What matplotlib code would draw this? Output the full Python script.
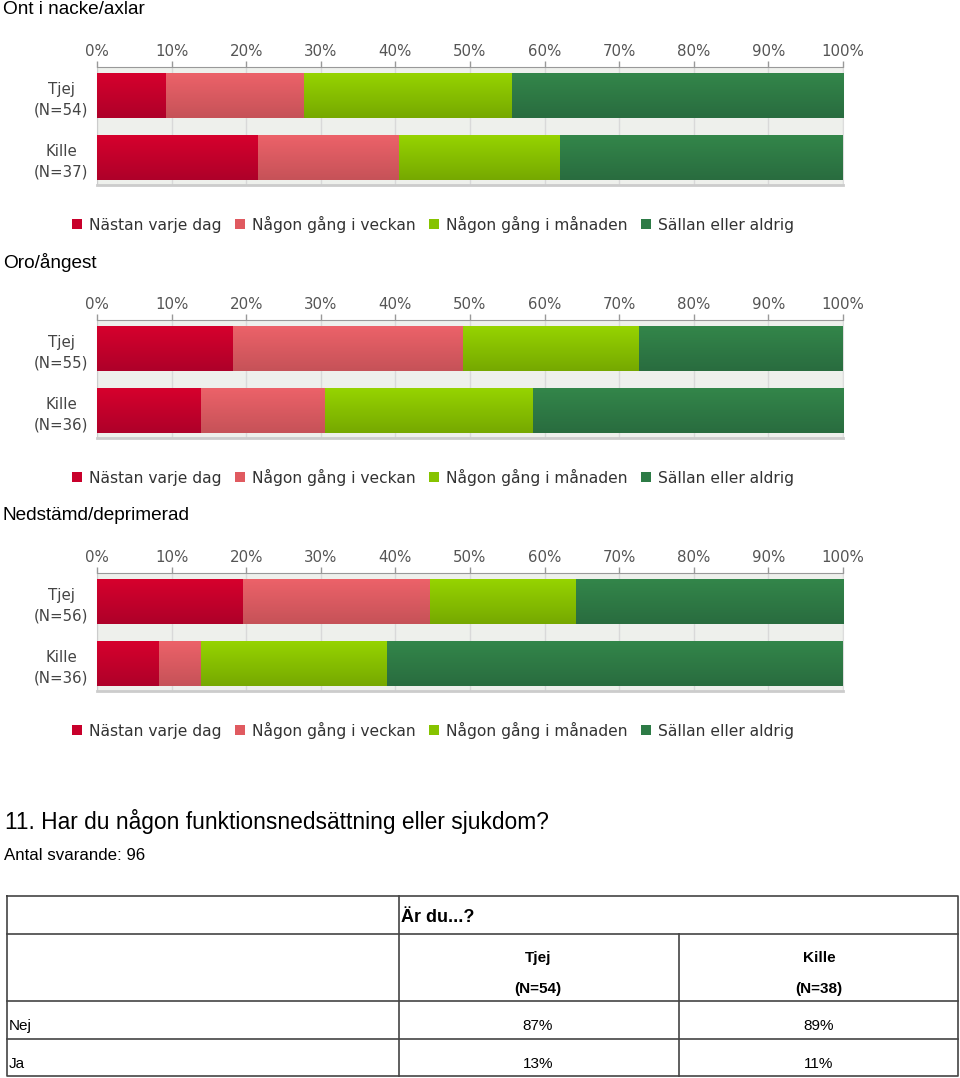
import matplotlib
matplotlib.use("Agg")
import matplotlib.pyplot as plt
from matplotlib.patches import Patch
from matplotlib.colors import to_rgb
import numpy as np

# ---------------- data ----------------
chart_titles = ["Ont i nacke/axlar", "Oro/ångest", "Nedstämd/deprimerad"]
groups = ["Tjej", "Kille"]
group_n = [[54, 37], [55, 36], [56, 36]]
answers = ["Nästan varje dag", "Någon gång i veckan", "Någon gång i månaden", "Sällan eller aldrig"]

neck_tjej = [9.3, 18.5, 27.8, 44.4]
neck_kille = [21.6, 18.9, 21.6, 37.9]
anx_tjej = [18.2, 30.9, 23.6, 27.3]
anx_kille = [13.9, 16.7, 27.8, 41.6]
dep_tjej = [19.6, 25.0, 19.6, 35.8]
dep_kille = [8.3, 5.6, 25.0, 61.1]

x_ticks = [0, 10, 20, 30, 40, 50, 60, 70, 80, 90, 100]

question = "11. Har du någon funktionsnedsättning eller sjukdom?"
antal_svarande = 96
table_header = "Är du...?"
table_cols = ["Tjej", "Kille"]
table_n = [54, 38]
table_rows = ["Nej", "Ja"]
table_nej = [87, 89]
table_ja = [13, 11]

colors = ["#c8002b", "#e05a60", "#86c300", "#2d7b46"]
grad_top = ["#d6002d", "#ec6269", "#96d400", "#33864a"]
grad_bot = ["#ae0029", "#c65258", "#76a800", "#296c3f"]

# ---------------- figure ----------------
W, H = 960, 1078
fig = plt.figure(figsize=(W / 100, H / 100), dpi=100)

overlay = fig.add_axes([0, 0, 1, 1], zorder=5)
overlay.set_xlim(0, W)
overlay.set_ylim(H, 0)
overlay.axis("off")
overlay.patch.set_alpha(0)


def gradient_img(c_top, c_bot, n=64):
    t = np.linspace(0, 1, n)[:, None]
    a = np.array(to_rgb(c_top))
    b = np.array(to_rgb(c_bot))
    img = (1 - t)[:, :, None] * a + t[:, :, None] * b
    return img


chart_data = [(neck_tjej, neck_kille), (anx_tjej, anx_kille), (dep_tjej, dep_kille)]
step = 253
for k, (title, (tj, ki)) in enumerate(zip(chart_titles, chart_data)):
    off = step * k
    top, bot = 67 + off, 185 + off
    ax = fig.add_axes([97 / W, 1 - bot / H, 746 / W, (bot - top) / H])
    ax.set_facecolor("#eef0ec")
    vals = np.array([tj, ki])
    ypos = np.arange(len(groups))
    left = np.zeros(len(groups))
    for j, ans in enumerate(answers):
        bars = ax.barh(ypos, vals[:, j], left=left, height=0.726, color=colors[j],
                       label=ans, zorder=3, linewidth=0)
        img = gradient_img(grad_top[j], grad_bot[j])
        for p in bars:
            x, y, w, h = p.get_x(), p.get_y(), p.get_width(), p.get_height()
            # y axis inverted: top of bar in display is y (smaller value)
            ax.imshow(img, extent=(x, x + w, y + h, y), aspect="auto",
                      zorder=4, interpolation="bilinear")
        left += vals[:, j]
    ax.set_xlim(0, 100)
    ax.set_ylim(1.444, -0.46)
    ax.xaxis.tick_top()
    ax.set_xticks(x_ticks)
    ax.set_xticklabels([f"{t}%" for t in x_ticks], fontsize=10.8, color="#555555",
                       family="DejaVu Sans")
    ax.tick_params(axis="x", length=4, width=1, color="#999999", pad=2)
    ax.set_yticks(ypos)
    ax.set_yticklabels([f"{g}\n(N={n})" for g, n in zip(groups, group_n[k])],
                       fontsize=10.8, color="#444444", family="DejaVu Sans",
                       linespacing=1.45, multialignment="center")
    ax.tick_params(axis="y", length=0, pad=6)
    ax.grid(axis="x", color="#d9d9d9", linewidth=1, zorder=0)
    ax.set_axisbelow(True)
    ax.spines["top"].set_color("#999999")
    ax.spines["bottom"].set_color("#cccccc")
    ax.spines["bottom"].set_linewidth(2)
    ax.spines["left"].set_color("#cccccc")
    ax.spines["right"].set_color("#dddddd")

    handles = [Patch(facecolor=c, edgecolor="none") for c in colors]
    fig.legend(handles, answers, loc="center", ncol=4,
               bbox_to_anchor=(433 / W, 1 - (224 + off) / H),
               frameon=False, handlelength=0.65, handleheight=0.65,
               handletextpad=0.45, columnspacing=0.85, labelcolor="#333333",
               prop={"family": "DejaVu Sans", "size": 11.2})

    overlay.text(3, 9.5 + off, title, fontsize=13.7, family="Liberation Sans",
                 ha="left", va="center", color="black")

# ---------------- question + table ----------------
overlay.text(5, 822, question, fontsize=16.4, family="Liberation Sans",
             ha="left", va="center", color="black")
overlay.text(4, 855, f"Antal svarande: {antal_svarande}", fontsize=12.2,
             family="Liberation Sans", ha="left", va="center", color="black")

lc, lw = "#444444", 1.2
x0, x1, x2, x3 = 7, 399, 679, 958
y0, y1, y2, y3, y4 = 896, 934, 1001, 1039, 1076
overlay.plot([x0, x3, x3, x0, x0], [y0, y0, y4, y4, y0], color=lc, lw=lw)
for yy in (y1, y2, y3):
    overlay.plot([x0, x3], [yy, yy], color=lc, lw=lw)
overlay.plot([x1, x1], [y0, y4], color=lc, lw=lw)
overlay.plot([x2, x2], [y1, y4], color=lc, lw=lw)

overlay.text(401, 918, table_header, fontsize=13, fontweight="bold",
             family="Liberation Sans", ha="left", va="center")
col_centers = [538, 819]
for cx, name, n in zip(col_centers, table_cols, table_n):
    overlay.text(cx, 958, name, fontsize=11, fontweight="bold",
                 family="Liberation Sans", ha="center", va="center")
    overlay.text(cx, 989, f"(N={n})", fontsize=11, fontweight="bold",
                 family="Liberation Sans", ha="center", va="center")
row_y = [1026, 1064]
for ry, rname, rvals in zip(row_y, table_rows, [table_nej, table_ja]):
    overlay.text(9, ry, rname, fontsize=11, family="Liberation Sans",
                 ha="left", va="center")
    for cx, v in zip(col_centers, rvals):
        overlay.text(cx, ry, f"{v}%", fontsize=11, family="Liberation Sans",
                     ha="center", va="center")

fig.savefig("out.png", dpi=100)
